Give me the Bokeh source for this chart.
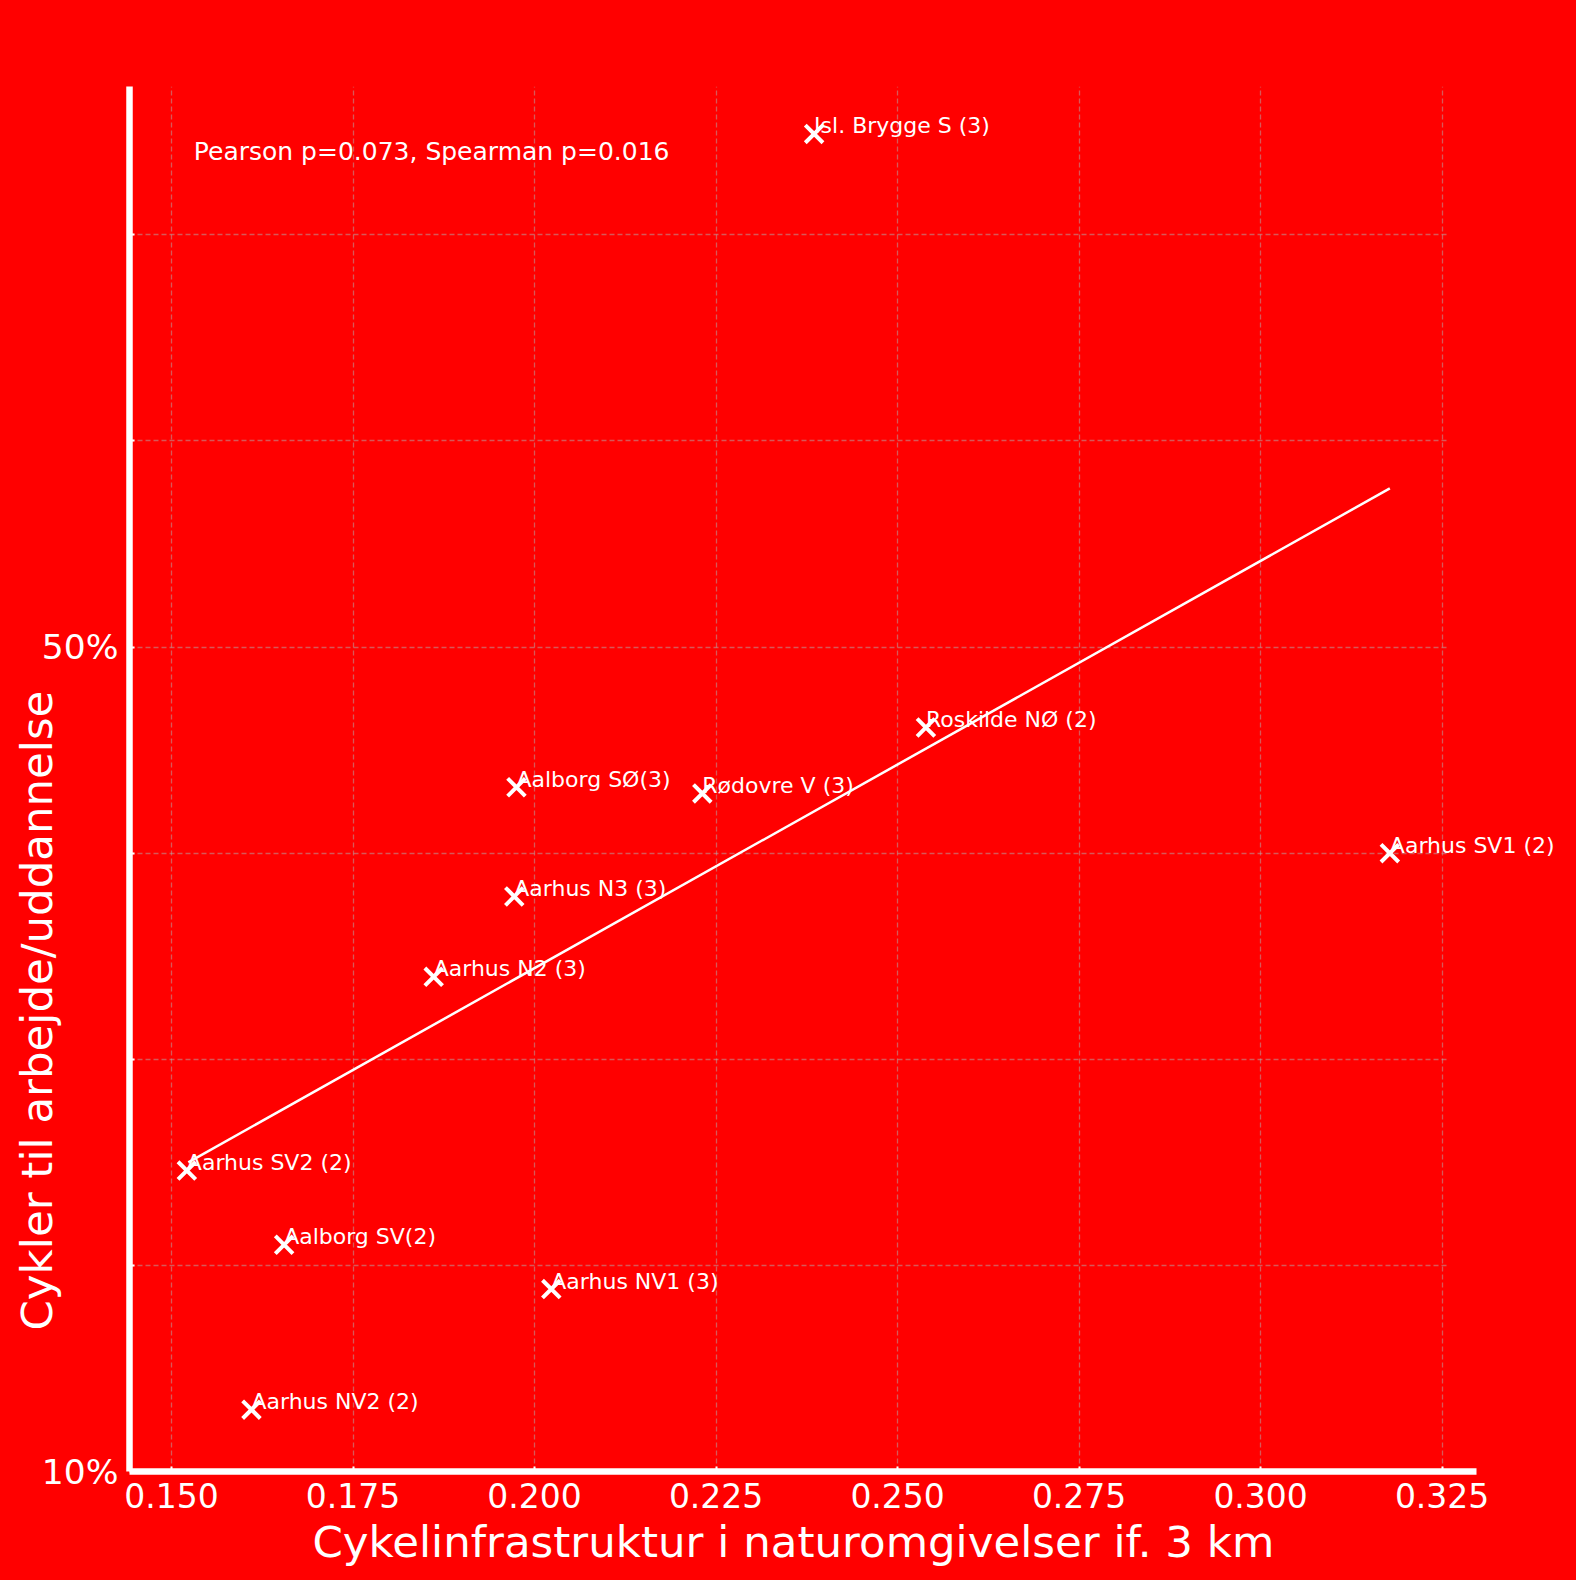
import math
from bokeh.plotting import figure
from bokeh.models import ColumnDataSource, Range1d, FixedTicker, Label, Title
from bokeh.embed import file_html
from bokeh.resources import INLINE
from bokeh.core.properties import value

# ---------------- data ----------------
names = ["Isl. Brygge S (3)", "Roskilde NØ (2)", "Aalborg SØ(3)", "Rødovre V (3)",
         "Aarhus SV1 (2)", "Aarhus N3 (3)", "Aarhus N2 (3)", "Aarhus SV2 (2)",
         "Aalborg SV(2)", "Aarhus NV1 (3)", "Aarhus NV2 (2)"]
infra = [0.2385, 0.2539, 0.1975, 0.2231, 0.3178, 0.1972, 0.1861, 0.1521,
         0.1655, 0.2023, 0.1610]
cycling_pct = [74.9, 46.1, 43.2, 42.9, 40.0, 37.9, 34.0, 24.6, 21.0, 18.85, 13.0]

trend_x = [0.1523, 0.3178]
trend_y = [25.0, 57.7]

x_ticks = [0.150, 0.175, 0.200, 0.225, 0.250, 0.275, 0.300, 0.325]
x_tick_labels = ["0.150", "0.175", "0.200", "0.225", "0.250", "0.275", "0.300", "0.325"]
y_ticks = [10, 20, 30, 40, 50, 60, 70]
y_tick_labels = ["10%", "", "", "", "50%", "", ""]

stats_text = "Pearson p=0.073, Spearman p=0.016"
x_title = "Cykelinfrastruktur i naturomgivelser if. 3 km"
y_title = "Cykler til arbejde/uddannelse"

# ---------------- figure ----------------
RED = "#ff0000"
FONT = "DejaVu Sans"
X0, X_AXIS_END, X_GRID_END, X1 = 0.1442, 0.3298, 0.3257, 0.34351

p = figure(width=1576, height=1580, output_backend="svg", toolbar_location=None,
           x_range=Range1d(X0, X1), y_range=Range1d(10, 77.2),
           min_border_left=129, min_border_right=0, min_border_top=86,
           min_border_bottom=109)
p.background_fill_color = RED
p.border_fill_color = RED
p.outline_line_color = None

# axes
for ax in (p.xaxis[0], p.yaxis[0]):
    ax.axis_line_color = "white"
    ax.axis_line_width = 6.5
    ax.major_tick_in = 5
    ax.major_tick_out = 0
    ax.major_tick_line_color = "white"
    ax.major_tick_line_width = 2
    ax.minor_tick_line_color = None
    ax.major_label_text_color = "white"
    ax.major_label_text_font = FONT

p.xaxis[0].bounds = (X0, X_AXIS_END)
p.xaxis[0].ticker = FixedTicker(ticks=x_ticks)
p.xaxis[0].major_label_overrides = {t: l for t, l in zip(x_ticks, x_tick_labels)}
p.xaxis[0].major_label_standoff = 11
p.xaxis[0].major_label_text_font_size = "33px"
p.yaxis[0].ticker = FixedTicker(ticks=y_ticks)
p.yaxis[0].major_label_overrides = {t: l for t, l in zip(y_ticks, y_tick_labels)}
p.yaxis[0].major_label_standoff = 11
p.yaxis[0].major_label_text_font_size = "34.5px"

# grid
p.xgrid[0].ticker = FixedTicker(ticks=x_ticks)
p.ygrid[0].ticker = FixedTicker(ticks=y_ticks)
for g in (p.xgrid[0], p.ygrid[0]):
    g.grid_line_color = "#b0b0b0"
    g.grid_line_alpha = 0.5
    g.grid_line_width = 1.3
    g.grid_line_dash = "5 3"
try:
    if "cross_bounds" in p.ygrid[0].properties():
        p.ygrid[0].cross_bounds = (X0, X_GRID_END)
except Exception:
    pass

# trend line
p.line(trend_x, trend_y, line_color="white", line_width=2.5)

# points
src = ColumnDataSource(dict(x=infra, y=cycling_pct, name=names))
p.scatter("x", "y", source=src, marker="x", size=25, line_color="white", line_width=4)
p.text("x", "y", text="name", source=src, text_color="white",
       text_font=value(FONT), text_font_size="22px", y_offset=-8,
       text_align="left", text_baseline="alphabetic")

# stats annotation
p.add_layout(Label(x=0.15306, y=74.05, text=stats_text, text_color="white",
                   text_font=FONT, text_font_size="25px",
                   text_align="left", text_baseline="alphabetic"))

# axis titles as side-panel titles
def make_title(text, offset, standoff):
    t = Title(text=text, align="left", offset=offset, text_color="white",
              text_font=FONT, text_font_size="43.5px", text_font_style="normal")
    try:
        t.standoff = standoff
    except Exception:
        t.standoff = 0
    return t

p.add_layout(make_title(x_title, 183, 8), "below")
p.add_layout(make_title(y_title, 141, -47), "left")

html = file_html(p, INLINE)
html = html.replace("</head>", "<style>html, body { background: #ff0000; }</style></head>", 1)
open("out.html", "w").write(html)
